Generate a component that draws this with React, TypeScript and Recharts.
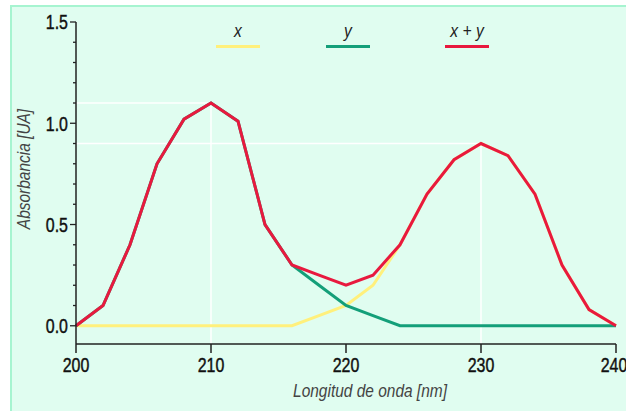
import { LineChart, Line, XAxis, YAxis, ReferenceLine, Legend, Label } from 'recharts';

// wavelength in nm, one point every 2 nm
const WAVELENGTH = [200, 202, 204, 206, 208, 210, 212, 214, 216, 218, 220, 222, 224, 226, 228, 230, 232, 234, 236, 238, 240];
// absorbance of component x, component y and of the mixture
const X_VALUES = [0, 0, 0, 0, 0, 0, 0, 0, 0, 0.05, 0.1, 0.2, 0.4, 0.65, 0.82, 0.9, 0.84, 0.65, 0.3, 0.08, 0];
const Y_VALUES = [0, 0.1, 0.4, 0.8, 1.02, 1.1, 1.01, 0.5, 0.3, 0.2, 0.1, 0.05, 0, 0, 0, 0, 0, 0, 0, 0, 0];
const XY_VALUES = [0, 0.1, 0.4, 0.8, 1.02, 1.1, 1.01, 0.5, 0.3, 0.25, 0.2, 0.25, 0.4, 0.65, 0.82, 0.9, 0.84, 0.65, 0.3, 0.08, 0];

const X_TICKS = [200, 210, 220, 230, 240];
const Y_TICKS = [0, 0.1, 0.2, 0.3, 0.4, 0.5, 0.6, 0.7, 0.8, 0.9, 1, 1.1, 1.2, 1.3, 1.4, 1.5];
const Y_LABELED = [0, 0.5, 1, 1.5];

// maxima of the two bands (white guide lines)
const PEAKS = [
  { x: 210, y: 1.1 },
  { x: 230, y: 0.9 },
];

const SERIES = [
  { key: 'x', name: 'x', color: '#fff07c' },
  { key: 'y', name: 'y', color: '#149f79' },
  { key: 'xy', name: 'x + y', color: '#e8193e' },
];

const data = WAVELENGTH.map((w, i) => ({ w, x: X_VALUES[i], y: Y_VALUES[i], xy: XY_VALUES[i] }));

const FONT = '"Liberation Sans", Arial, sans-serif';
const NARROW = 0.76; // horizontal squeeze to imitate the condensed face
const Y_MIN = -0.09;
const LEGEND_CENTERS = [238, 348, 467];

// text squeezed horizontally around its anchor point
const NarrowText = ({ x, y, anchor = 'middle', dy = '0.35em', size = 20, italic = false, fill = '#1a1a1a', rotate = 0, squeeze = NARROW, heavy = false, children }: any) => (
  <text
    transform={`translate(${x} ${y}) rotate(${rotate}) scale(${squeeze} 1)`}
    x={0}
    y={0}
    dy={dy}
    textAnchor={anchor}
    fontSize={size}
    fontStyle={italic ? 'italic' : 'normal'}
    fontFamily={FONT}
    fill={fill}
    stroke={heavy ? fill : 'none'}
    strokeWidth={heavy ? 0.45 : 0}
  >
    {children}
  </text>
);

const YTick = ({ x, y, payload }: any) => {
  const major = Y_LABELED.includes(payload.value);
  return (
    <g>
      <line x1={x - (major ? 6 : 3)} x2={x} y1={y} y2={y} stroke="#222" strokeWidth={1.3} />
      {major && (
        <NarrowText x={x - 8} y={y} anchor="end" size={21} fill="#111" heavy>
          {payload.value.toFixed(1)}
        </NarrowText>
      )}
    </g>
  );
};

const XTick = ({ x, y, payload }: any) => (
  <NarrowText x={x} y={y} dy="0.71em" size={21} fill="#111" heavy>
    {payload.value}
  </NarrowText>
);

const LegendContent = () => (
  <div style={{ position: 'relative', width: 626, height: 0 }}>
    {SERIES.map((s, i) => (
      <div key={s.key} style={{ position: 'absolute', left: LEGEND_CENTERS[i] - 30, top: 20, width: 60, textAlign: 'center' }}>
        <div
          style={{
            fontFamily: FONT,
            fontStyle: 'italic',
            fontSize: 19,
            color: '#222',
            lineHeight: '22px',
            transform: `scaleX(${NARROW + 0.06})`,
          }}
        >
          {s.name}
        </div>
        <div style={{ margin: '3px auto 0', width: 44, height: 3, background: s.color }} />
      </div>
    ))}
  </div>
);

export default function App() {
  return (
    <div style={{ position: 'absolute', top: 0, left: 0, width: 626, height: 411, overflow: 'hidden', background: '#ffffff' }}>
      <div style={{ position: 'absolute', left: 10, top: 5, width: 700, height: 500, background: '#e0fdf0', border: '2.5px solid #a6f4d0' }} />
      <div style={{ position: 'absolute', left: 0, top: 0 }}>
        <LineChart width={626} height={411} data={data} margin={{ top: 22, right: 10, bottom: 37, left: 16 }}>
          {PEAKS.map((p) => (
            <ReferenceLine key={'h' + p.x} segment={[{ x: 200, y: p.y }, { x: p.x, y: p.y }]} stroke="#ffffff" strokeWidth={1.5} />
          ))}
          {PEAKS.map((p) => (
            <ReferenceLine key={'v' + p.x} segment={[{ x: p.x, y: Y_MIN }, { x: p.x, y: p.y }]} stroke="#ffffff" strokeWidth={1.5} />
          ))}
          <XAxis
            dataKey="w"
            type="number"
            domain={[200, 240]}
            ticks={X_TICKS}
            height={30}
            tickSize={9}
            tickMargin={4}
            stroke="#222"
            strokeWidth={1.5}
            tick={<XTick />}
          >
            <Label
              content={() => (
                <NarrowText x={370} y={391} size={18} italic fill="#444" squeeze={0.86}>
                  Longitud de onda [nm]
                </NarrowText>
              )}
            />
          </XAxis>
          <YAxis
            type="number"
            domain={[Y_MIN, 1.5]}
            ticks={Y_TICKS}
            interval={0}
            width={60}
            tickSize={0}
            tickMargin={0}
            tickLine={false}
            stroke="#222"
            strokeWidth={1.5}
            tick={<YTick />}
          >
            <Label
              content={() => (
                <NarrowText x={24} y={169} rotate={-90} size={18} italic fill="#444" squeeze={0.86}>
                  Absorbancia [UA]
                </NarrowText>
              )}
            />
          </YAxis>
          {SERIES.map((s) => (
            <Line
              key={s.key}
              dataKey={s.key}
              name={s.name}
              type="linear"
              stroke={s.color}
              strokeWidth={3}
              dot={false}
              activeDot={false}
              isAnimationActive={false}
            />
          ))}
          <Legend
            verticalAlign="middle"
            align="center"
            width={626}
            wrapperStyle={{ top: 0, left: 0 }}
            content={<LegendContent />}
          />
        </LineChart>
      </div>
    </div>
  );
}
